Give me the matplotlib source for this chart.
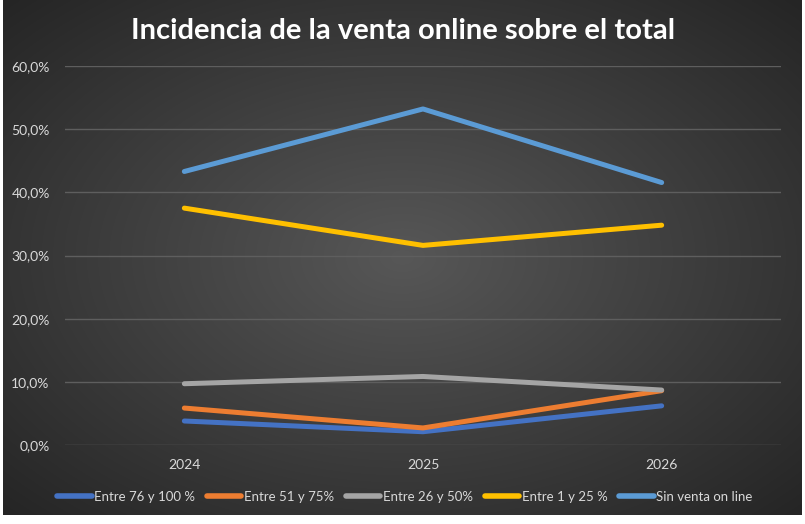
import matplotlib
matplotlib.use("Agg")
import matplotlib.pyplot as plt
import numpy as np
from matplotlib.ticker import FuncFormatter

years = ["2024", "2025", "2026"]
series_names = ["Entre 76 y 100 %", "Entre 51 y 75%", "Entre 26 y 50%", "Entre 1 y 25 %", "Sin venta on line"]
entre_76_100 = [3.8, 2.1, 6.2]
entre_51_75 = [5.85, 2.7, 8.6]
entre_26_50 = [9.7, 10.85, 8.7]
entre_1_25 = [37.5, 31.6, 34.8]
sin_venta = [43.3, 53.2, 41.55]
colors = ["#4472C4", "#ED7D31", "#A5A5A5", "#FFC000", "#5B9BD5"]
yticks = [0, 10, 20, 30, 40, 50, 60]

plt.rcParams['font.family'] = ['Lato', 'DejaVu Sans']

W, H = 805, 524
fig = plt.figure(figsize=(W/100, H/100), dpi=100)
fig.patch.set_facecolor("white")

# background chart area with radial gradient
bx0, bx1, by0, by1 = 3, 802, 0, 515
bg = fig.add_axes([bx0/W, 1-by1/H, (bx1-bx0)/W, (by1-by0)/H])
nx, ny = 400, 260
xx, yy = np.meshgrid(np.linspace(-1, 1, nx), np.linspace(-1, 1, ny))
r = np.sqrt(xx**2 + yy**2) / np.sqrt(2)
c_in = np.array([0x57, 0x57, 0x57]) / 255
c_out = np.array([0x25, 0x25, 0x25]) / 255
t = np.clip(r, 0, 1)[..., None]
img = c_in * (1 - t) + c_out * t
bg.imshow(img, aspect="auto", extent=[0, 1, 0, 1], interpolation="bilinear")
bg.set_axis_off()

ax = fig.add_axes([65/W, 1-445/H, 716/W, 379/H])
ax.set_facecolor("none")
x = np.arange(len(years))
data = [entre_76_100, entre_51_75, entre_26_50, entre_1_25, sin_venta]
for name, vals, c in zip(series_names, data, colors):
    ax.plot(x, vals, color=c, lw=3.6, solid_capstyle="round", label=name, zorder=3)

ax.set_xlim(-0.5, 2.5)
ax.set_ylim(0, 60)
ax.set_yticks(yticks)
ax.yaxis.set_major_formatter(FuncFormatter(lambda v, p: f"{v:.1f}".replace(".", ",") + "%"))
ax.set_xticks(x)
ax.set_xticklabels(years)
ax.grid(axis="y", color="#5e5e5e", lw=1)
ax.set_axisbelow(True)
for s in ax.spines.values():
    s.set_visible(False)
ax.tick_params(axis="both", length=0, colors="#d9d9d9", labelsize=10)
ax.tick_params(axis="y", pad=11)
ax.tick_params(axis="x", pad=10)

fig.text(403/W, 1-31/H, "Incidencia de la venta online sobre el total", color="white",
         fontsize=21, fontweight="bold", ha="center", va="center")

leg = fig.legend(loc="center", bbox_to_anchor=(405/W, 1-497/H), ncol=5, frameon=False,
                 fontsize=9.5, handlelength=2.6, handletextpad=0.2, columnspacing=0.9,
                 labelcolor="#d9d9d9")
for l in leg.get_lines():
    l.set_linewidth(4)

fig.savefig("out.png", dpi=100, facecolor=fig.get_facecolor())
